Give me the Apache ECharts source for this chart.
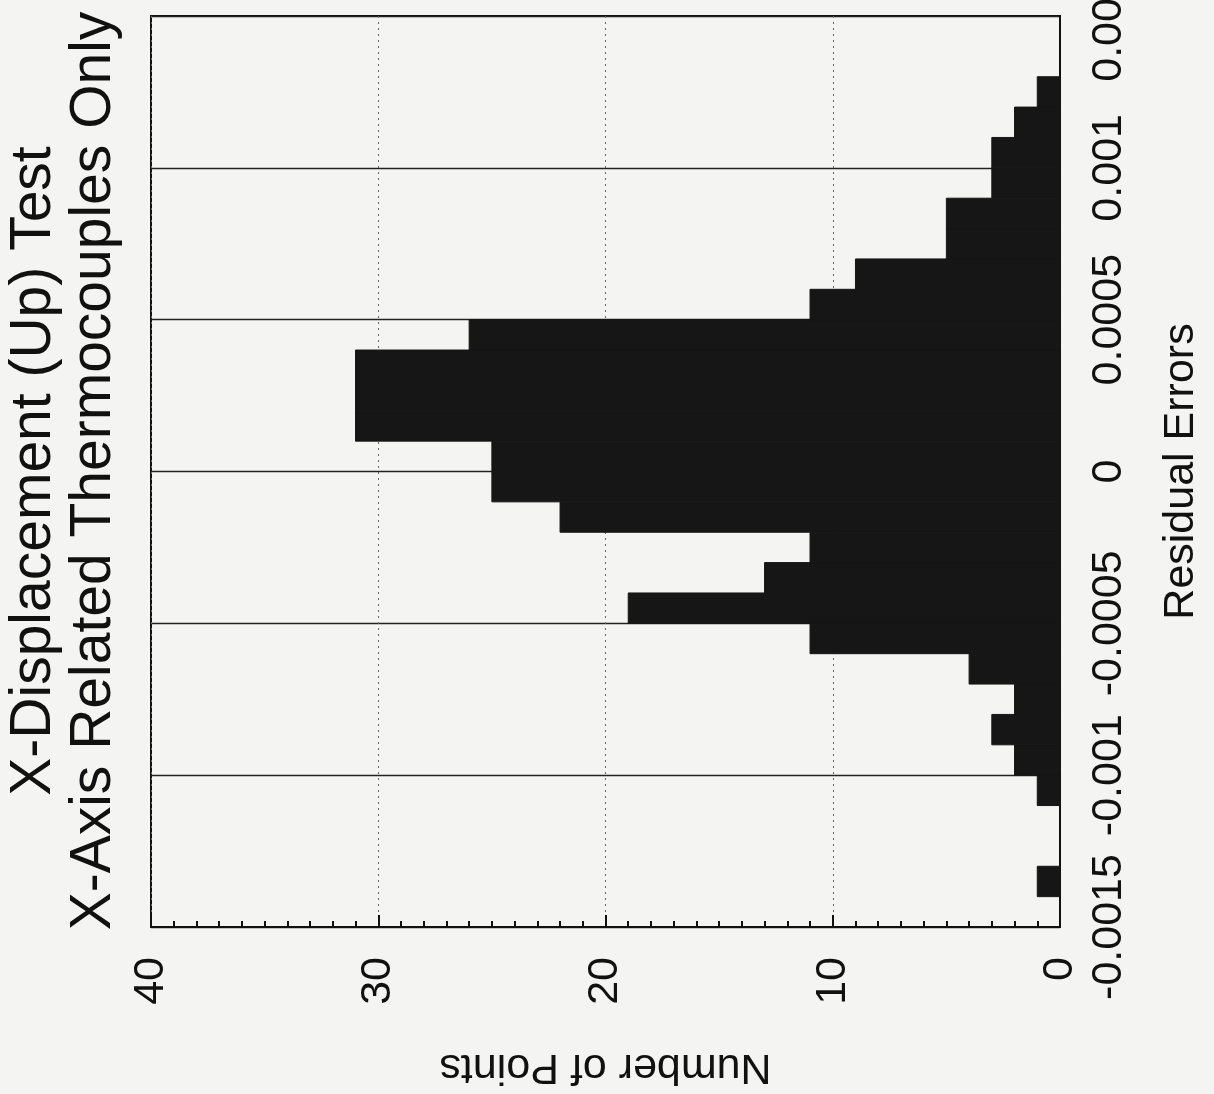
<!DOCTYPE html>
<html>
<head>
<meta charset="utf-8">
<script src="https://cdn.jsdelivr.net/npm/echarts@6/dist/echarts.min.js"></script>
<style>
html,body{margin:0;padding:0;background:#f4f4f2;}
#chart{width:1214px;height:1094px;}
</style>
</head>
<body>
<div id="chart"></div>
<script>
// Histogram bin edges (residual errors) and counts
const binEdges = [-0.0015,-0.0014,-0.0013,-0.0012,-0.0011,-0.0010,-0.0009,-0.0008,-0.0007,-0.0006,
                  -0.0005,-0.0004,-0.0003,-0.0002,-0.0001,0.0000,0.0001,0.0002,0.0003,0.0004,
                  0.0005,0.0006,0.0007,0.0008,0.0009,0.0010,0.0011,0.0012,0.0013,0.0014,0.0015];
const counts = [0,1,0,0,1,2,3,2,4,11,19,13,11,22,25,25,31,31,31,26,11,9,5,5,3,3,2,1,0,0];
const residualTicks = ['-0.0015','-0.001','-0.0005','0','0.0005','0.001','0.0015'];
const countTicks = ['0','10','20','30','40'];
const titleLines = ['X-Displacement (Up) Test','X-Axis Related Thermocouples Only'];
const xName = 'Number of Points';
const yName = 'Residual Errors';

const FONT = 'Liberation Sans, Arial, Helvetica, sans-serif';
const barData = [];
for (let i = 0; i < counts.length; i++) {
  if (counts[i] > 0) barData.push([counts[i], binEdges[i], binEdges[i+1]]);
}

const chart = echarts.init(document.getElementById('chart'), null, {renderer: 'canvas'});
chart.setOption({
  backgroundColor: '#f4f4f2',
  animation: false,
  grid: {left: 151, right: 154, top: 16, bottom: 167, containLabel: false, outerBoundsMode: 'none',
         show: true, borderColor: '#111', borderWidth: 2, backgroundColor: 'transparent'},
  graphic: [
    {type: 'text', x: 34, y: 471, rotation: Math.PI/2,
     style: {text: titleLines[0], font: '57px ' + FONT, fill: '#111', textAlign: 'center', textVerticalAlign: 'middle'}},
    {type: 'text', x: 94, y: 471, rotation: Math.PI/2,
     style: {text: titleLines[1], font: '57px ' + FONT, fill: '#111', textAlign: 'center', textVerticalAlign: 'middle'}}
  ],
  xAxis: {
    type: 'value', min: 0, max: 40, interval: 10, inverse: true, position: 'bottom',
    name: xName, nameLocation: 'middle', nameRotate: 180, nameGap: 118,
    nameTextStyle: {fontSize: 43, fontFamily: FONT, color: '#111'},
    axisLine: {show: true, onZero: false, lineStyle: {color: '#111', width: 2}},
    axisTick: {show: true, inside: true, length: 12, lineStyle: {color: '#111', width: 2}},
    minorTick: {show: true, splitNumber: 10, length: 6, lineStyle: {color: '#111', width: 2}},
    splitLine: {show: true, lineStyle: {color: '#666', type: [2, 4], width: 1}},
    axisLabel: {rotate: 90, fontSize: 43, fontFamily: FONT, color: '#111', margin: 30,
      formatter: v => countTicks[Math.round(v / 10)] }
  },
  yAxis: {
    type: 'value', min: -0.0015, max: 0.0015, interval: 0.0005, position: 'right',
    name: yName, nameLocation: 'middle', nameRotate: 90, nameGap: 100,
    nameTextStyle: {fontSize: 43, fontFamily: FONT, color: '#111'},
    axisLine: {show: true, onZero: false, lineStyle: {color: '#111', width: 2}},
    axisTick: {show: false},
    splitLine: {show: true, lineStyle: {color: '#222', width: 1.3}},
    axisLabel: {rotate: 90, fontSize: 43, fontFamily: FONT, color: '#111', margin: 28,
      formatter: v => residualTicks[Math.round((v + 0.0015) / 0.0005)] }
  },
  series: [{
    type: 'custom',
    encode: {x: 0, y: [1, 2]},
    data: barData,
    renderItem: function (params, api) {
      const c = api.value(0), lo = api.value(1), hi = api.value(2);
      const p1 = api.coord([0, hi]);
      const p2 = api.coord([c, lo]);
      return {
        type: 'rect',
        shape: {x: Math.min(p1[0], p2[0]), y: Math.min(p1[1], p2[1]),
                width: Math.abs(p2[0] - p1[0]), height: Math.abs(p2[1] - p1[1])},
        style: {fill: '#161616', stroke: '#161616', lineWidth: 1}
      };
    }
  }]
});
</script>
</body>
</html>
